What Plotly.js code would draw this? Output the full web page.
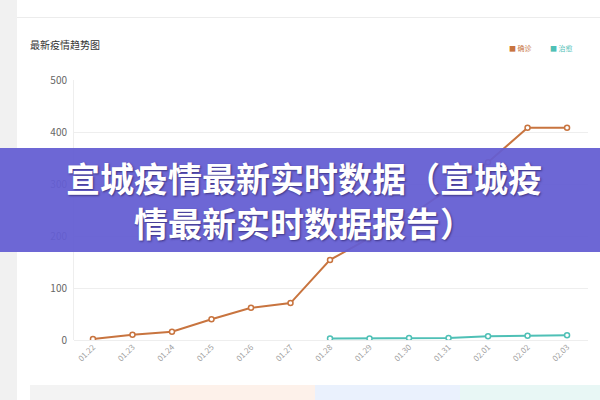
<!DOCTYPE html>
<html>
<head>
<meta charset="utf-8">
<script src="https://cdn.plot.ly/plotly-3.0.1.min.js"></script>
<style>
  html, body { margin: 0; padding: 0; background: #ffffff; }
  #graph { width: 600px; height: 400px; }
</style>
</head>
<body>
<div id="graph"></div>
<script>
// chart values
const dates = ['01.22', '01.23', '01.24', '01.25', '01.26', '01.27', '01.28',
               '01.29', '01.30', '01.31', '02.01', '02.02', '02.03'];
const confirmed = [2, 10, 16, 40, 62, 71, 154, 196, 238, 290, 342, 408, 408];
const cured = [null, null, null, null, null, null, 3, 3, 4, 4, 7, 8, 9];
const seriesNames = ['确诊', '治愈'];
const yTicks = [0, 100, 200, 300, 400, 500];
const chartTitle = '最新疫情趋势图';
const bannerLines = ['宣城疫情最新实时数据（宣城疫', '情最新实时数据报告）'];

document.addEventListener('DOMContentLoaded', function(event)
{
  displayPlot("graph");
});

// plot area in pixels
const plotL = 74, plotR = 588, plotT = 80, plotB = 340;

// pixel -> paper coordinates
function px(x) { return (x - plotL) / (plotR - plotL); }
function py(y) { return (plotB - y) / (plotB - plotT); }

function rect(x0, y0, x1, y1, color, layer)
{
  return {
    type: 'rect', xref: 'paper', yref: 'paper',
    x0: px(x0), x1: px(x1), y0: py(y1), y1: py(y0),
    fillcolor: color, line: {width: 0}, layer: layer || 'below'
  };
}

function displayPlot(divPlot)
{
  const orange = '#c8743f';
  const teal = '#4fc0b6';
  const bannerFont = {family: 'Noto Sans CJK SC', size: 34, color: '#ffffff', weight: 'bold',
                      shadow: '1px 1px 2px rgba(30,20,80,0.6)'};

  let confirmedPlot = {
    name: seriesNames[0],
    x: dates,
    y: confirmed,
    type: 'scatter',
    mode: 'lines+markers',
    line: {color: orange, width: 2},
    marker: {symbol: 'circle', size: 5, color: '#ffffff', line: {color: orange, width: 1.5}}
  };

  let curedPlot = {
    name: seriesNames[1],
    x: dates,
    y: cured,
    type: 'scatter',
    mode: 'lines+markers',
    line: {color: teal, width: 2},
    marker: {symbol: 'circle', size: 5, color: '#ffffff', line: {color: teal, width: 1.5}}
  };

  let shapes = [
    rect(0, 0, 17, 400, '#f1f1f1'),
    rect(17, 17, 600, 18, '#ececec'),
    rect(30, 385, 170, 400, '#f3f3f3'),
    rect(170, 385, 315, 400, '#fdf1ea'),
    rect(315, 385, 460, 400, '#eaf1fd'),
    rect(460, 385, 600, 400, '#e8f7f5'),
    rect(0, 148, 600, 252, 'rgba(100, 94, 210, 0.94)', 'above')
  ];

  let annotations = [
    {
      text: '■ ' + seriesNames[0], xref: 'paper', yref: 'paper',
      x: px(507), y: py(48), xanchor: 'left', yanchor: 'middle', showarrow: false,
      font: {family: 'Noto Sans CJK SC', size: 7, color: orange}
    },
    {
      text: '■ ' + seriesNames[1], xref: 'paper', yref: 'paper',
      x: px(548), y: py(48), xanchor: 'left', yanchor: 'middle', showarrow: false,
      font: {family: 'Noto Sans CJK SC', size: 7, color: teal}
    },
    {
      text: bannerLines[0], xref: 'paper', yref: 'paper',
      x: px(304), y: py(177), xanchor: 'center', yanchor: 'middle', showarrow: false,
      font: bannerFont
    },
    {
      text: bannerLines[1], xref: 'paper', yref: 'paper',
      x: px(304), y: py(222), xanchor: 'center', yanchor: 'middle', showarrow: false,
      font: bannerFont
    }
  ];

  let layout =
  {
    width: 600,
    height: 400,
    margin: {l: plotL, r: 600 - plotR, t: plotT, b: 400 - plotB},
    paper_bgcolor: '#ffffff',
    plot_bgcolor: '#ffffff',
    showlegend: false,
    font: {family: 'Noto Sans CJK SC, DejaVu Sans', color: '#666666'},
    title:
    {
      text: chartTitle,
      x: 30 / 600, xanchor: 'left', xref: 'container',
      y: 1 - 45 / 400, yanchor: 'middle', yref: 'container',
      font: {family: 'Noto Sans CJK SC', size: 10, color: '#333333'}
    },
    xaxis:
    {
      type: 'category',
      range: [-0.48, 12.53],
      autorange: false,
      showgrid: false,
      zeroline: false,
      showline: false,
      ticks: '',
      tickangle: -45,
      tickfont: {size: 8, color: '#a0a0a0'},
      fixedrange: true
    },
    yaxis:
    {
      range: [0, 500],
      autorange: false,
      tickvals: yTicks,
      showgrid: true,
      gridcolor: '#eeeeee',
      gridwidth: 1,
      zeroline: true,
      zerolinecolor: '#eeeeee',
      showline: true,
      linecolor: '#eeeeee',
      ticks: '',
      ticklabelstandoff: 4,
      tickfont: {size: 10, color: '#666666'},
      fixedrange: true
    },
    shapes: shapes,
    annotations: annotations,
    hovermode: false
  };

  Plotly.newPlot(divPlot, [confirmedPlot, curedPlot], layout, {displayModeBar: false, staticPlot: true});
}
</script>
</body>
</html>
